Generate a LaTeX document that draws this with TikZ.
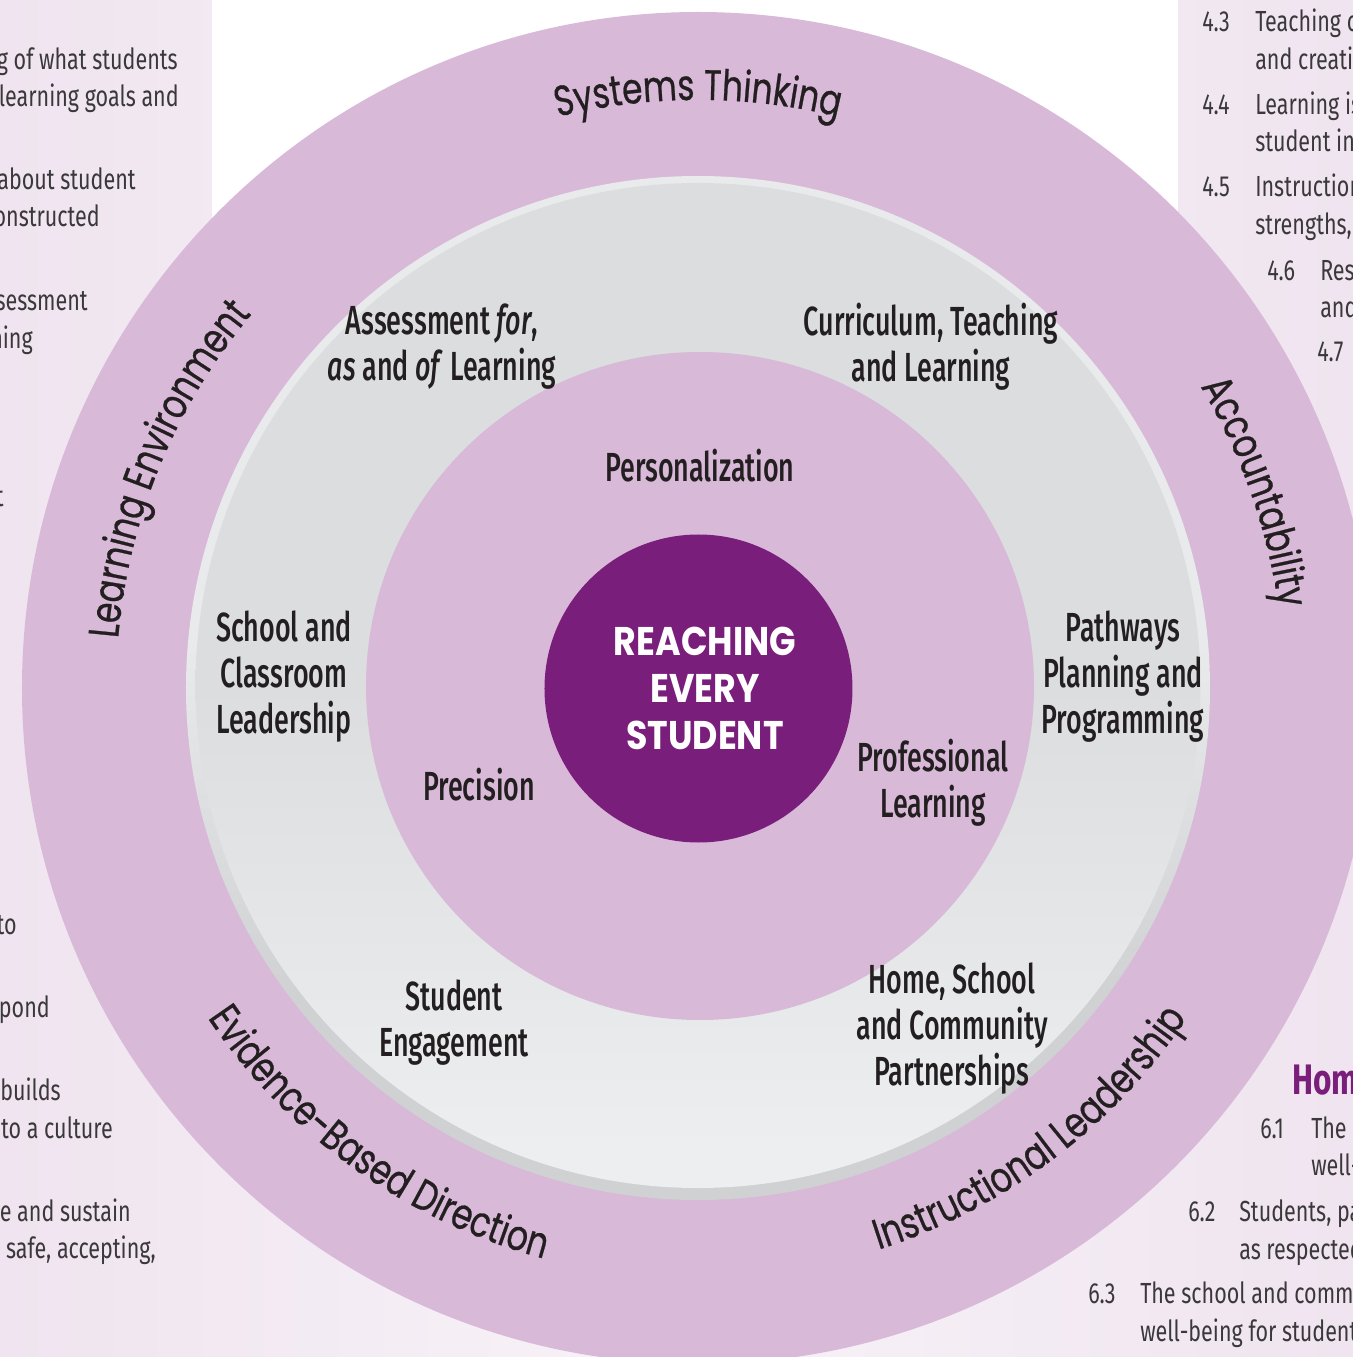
\documentclass[tikz,border=0pt]{standalone}
\usepackage{fontspec}
\usetikzlibrary{decorations.text}

\newfontfamily\ringfont{Poppins}[FakeStretch=0.77, FakeBold=0.6]
\newfontfamily\condfont{Fira Sans Medium}[FakeStretch=0.66]
\newfontfamily\notefont{Fira Sans}[FakeStretch=0.74]
\newfontfamily\hubfont{Poppins}[FakeStretch=0.87]
\newcommand{\ringstyle}{\ringfont\fontsize{32}{36}\selectfont}

\definecolor{ringpink}{RGB}{216,185,216}
\definecolor{hubpurple}{RGB}{122,30,123}
\definecolor{inkdark}{RGB}{35,31,32}
\definecolor{panelink}{RGB}{58,56,58}
\definecolor{graytop}{RGB}{220,221,223}
\definecolor{graybottom}{RGB}{237,238,239}
\definecolor{rimlight}{RGB}{233,234,235}
\definecolor{rimdark}{RGB}{208,209,211}
\definecolor{bgedge}{RGB}{239,228,239}
\definecolor{bgmid}{RGB}{248,243,248}

\pgfdeclareverticalshading{rimshade}{100bp}{color(0bp)=(rimdark); color(35bp)=(rimdark); color(52bp)=(rimlight); color(100bp)=(rimlight)}
\pgfdeclareverticalshading{grayshade}{100bp}{color(0bp)=(graybottom); color(27bp)=(graybottom); color(50bp)=(graytop); color(100bp)=(graytop)}

\begin{document}
\begin{tikzpicture}[x=0.75pt, y=0.75pt]
	\tikzstyle{topic} = [
		text=inkdark, align=center, inner sep=0pt,
		font={\condfont\fontsize{30.5}{34.5}\selectfont}];
	\tikzstyle{hubtext} = [
		text=white, align=center, inner sep=0pt,
		font={\hubfont\bfseries\fontsize{30}{35.25}\selectfont}];
	\tikzstyle{ringlabel} = [
		decorate, decoration={text along path, text align=center, text color=inkdark}];
	\tikzstyle{sidenote} = [
		text=panelink, inner sep=0pt,
		font={\notefont\fontsize{21.8}{28}\selectfont}];
	\tikzstyle{sidehead} = [
		text=hubpurple, inner sep=0pt,
		font={\notefont\bfseries\fontsize{32}{36}\selectfont}];

	\useasboundingbox (-698,-669) rectangle (655,688);
	\clip (-698,-669) rectangle (655,688);
	\shade[left color=bgedge, right color=bgedge, middle color=bgmid]
		(-698,-669) rectangle (655,688);
	\fill[white] (-486,0) rectangle (480,688);

	\fill[ringpink] (0,0) circle (676);
	\shade[shading=rimshade] (0,0) circle (512);
	\shade[shading=grayshade] (0,2.5) circle (502.5);
	\fill[ringpink] (2,2) circle (334);
	\fill[hubpurple] (0.5,-0.5) circle (154);

	\path[ringlabel, decoration={text={|\ringstyle|Systems Thinking}}]
		(150:588) arc[start angle=150, end angle=30, radius=588];
	\path[ringlabel, decoration={text={|\ringstyle|Accountability}}]
		(79.4:586) arc[start angle=79.4, end angle=-40.6, radius=586];
	\path[ringlabel, decoration={text={|\ringstyle|Learning Environment}}]
		(217.6:582) arc[start angle=217.6, end angle=97.6, radius=582];
	\path[ringlabel, decoration={text={|\ringstyle|Evidence-Based Direction}}]
		(-185.6:591) arc[start angle=-185.6, end angle=-65.6, radius=591];
	\path[ringlabel, decoration={text={|\ringstyle|Instructional Leadership}}]
		(-113.1:590) arc[start angle=-113.1, end angle=6.9, radius=590];

	\node[hubtext] (hub) at (7,0) {REACHING\\EVERY\\STUDENT};
	\node[topic] (asmt) at (-256,341.5) {Assessment \textit{for},\\\textit{as} and \textit{of} Learning};
	\node[topic] (curric) at (233,341.5) {Curriculum, Teaching\\and Learning};
	\node[topic, anchor=base] (person) at (2,206) {Personalization};
	\node[topic] (leadship) at (-414,11.5) {School and\\Classroom\\Leadership};
	\node[topic] (pathways) at (425,11.5) {Pathways\\Planning and\\Programming};
	\node[topic, anchor=base] (precision) at (-219,-112) {Precision};
	\node[topic] (proflearn) at (235,-94.5) {Professional\\Learning};
	\node[topic] (engage) at (-244,-335) {Student\\Engagement};
	\node[topic] (partners) at (254,-340.5) {Home, School\\and Community\\Partnerships};

	\node[sidenote, anchor=base east] (la) at (-520,618) {g of what students};
	\node[sidenote, anchor=base east] (lb) at (-519,581) {learning goals and};
	\node[sidenote, anchor=base east] (lc) at (-562,498) {about student};
	\node[sidenote, anchor=base east] (ld) at (-598,461) {onstructed};
	\node[sidenote, anchor=base east] (le) at (-610,377) {sessment};
	\node[sidenote, anchor=base east] (lf) at (-665,339) {ning};
	\node[sidenote, anchor=base east] (lg) at (-694,181) {t};
	\node[sidenote, anchor=base east] (lh) at (-681,-246) {to};
	\node[sidenote, anchor=base east] (li) at (-648,-329) {spond};
	\node[sidenote, anchor=base east] (lj) at (-637,-412) {builds};
	\node[sidenote, anchor=base east] (lk) at (-585,-450) {to a culture};
	\node[sidenote, anchor=base east] (ll) at (-567,-533) {re and sustain};
	\node[sidenote, anchor=base east] (lm) at (-542,-570) {safe, accepting,};

	\node[sidenote, anchor=base west] (n43) at (504,656) {4.3};
	\node[sidenote, anchor=base west] (ra) at (557,656) {Teaching c};
	\node[sidenote, anchor=base west] (rb) at (557,618) {and creativ};
	\node[sidenote, anchor=base west] (n44) at (504,573) {4.4};
	\node[sidenote, anchor=base west] (rc) at (557,573) {Learning is};
	\node[sidenote, anchor=base west] (rd) at (557,536) {student inc};
	\node[sidenote, anchor=base west] (n45) at (504,491) {4.5};
	\node[sidenote, anchor=base west] (re) at (557,491) {Instruction};
	\node[sidenote, anchor=base west] (rf) at (557,453) {strengths,};
	\node[sidenote, anchor=base west] (n46) at (569,407) {4.6};
	\node[sidenote, anchor=base west] (rg) at (622,407) {Res};
	\node[sidenote, anchor=base west] (rh) at (622,370) {and};
	\node[sidenote, anchor=base west] (n47) at (619,326) {4.7};

	\node[sidehead, anchor=base west] (home) at (594,-406) {Hom};
	\node[sidenote, anchor=base west] (n61) at (562,-450) {6.1};
	\node[sidenote, anchor=base west] (sa) at (613,-450) {The};
	\node[sidenote, anchor=base west] (sb) at (613,-487) {well-};
	\node[sidenote, anchor=base west] (n62) at (490,-533) {6.2};
	\node[sidenote, anchor=base west] (sc) at (541,-533) {Students, pa};
	\node[sidenote, anchor=base west] (sd) at (541,-571) {as respected};
	\node[sidenote, anchor=base west] (n63) at (390,-615) {6.3};
	\node[sidenote, anchor=base west] (se) at (442,-615) {The school and commu};
	\node[sidenote, anchor=base west] (sf) at (442,-653) {well-being for students};
\end{tikzpicture}
\end{document}
